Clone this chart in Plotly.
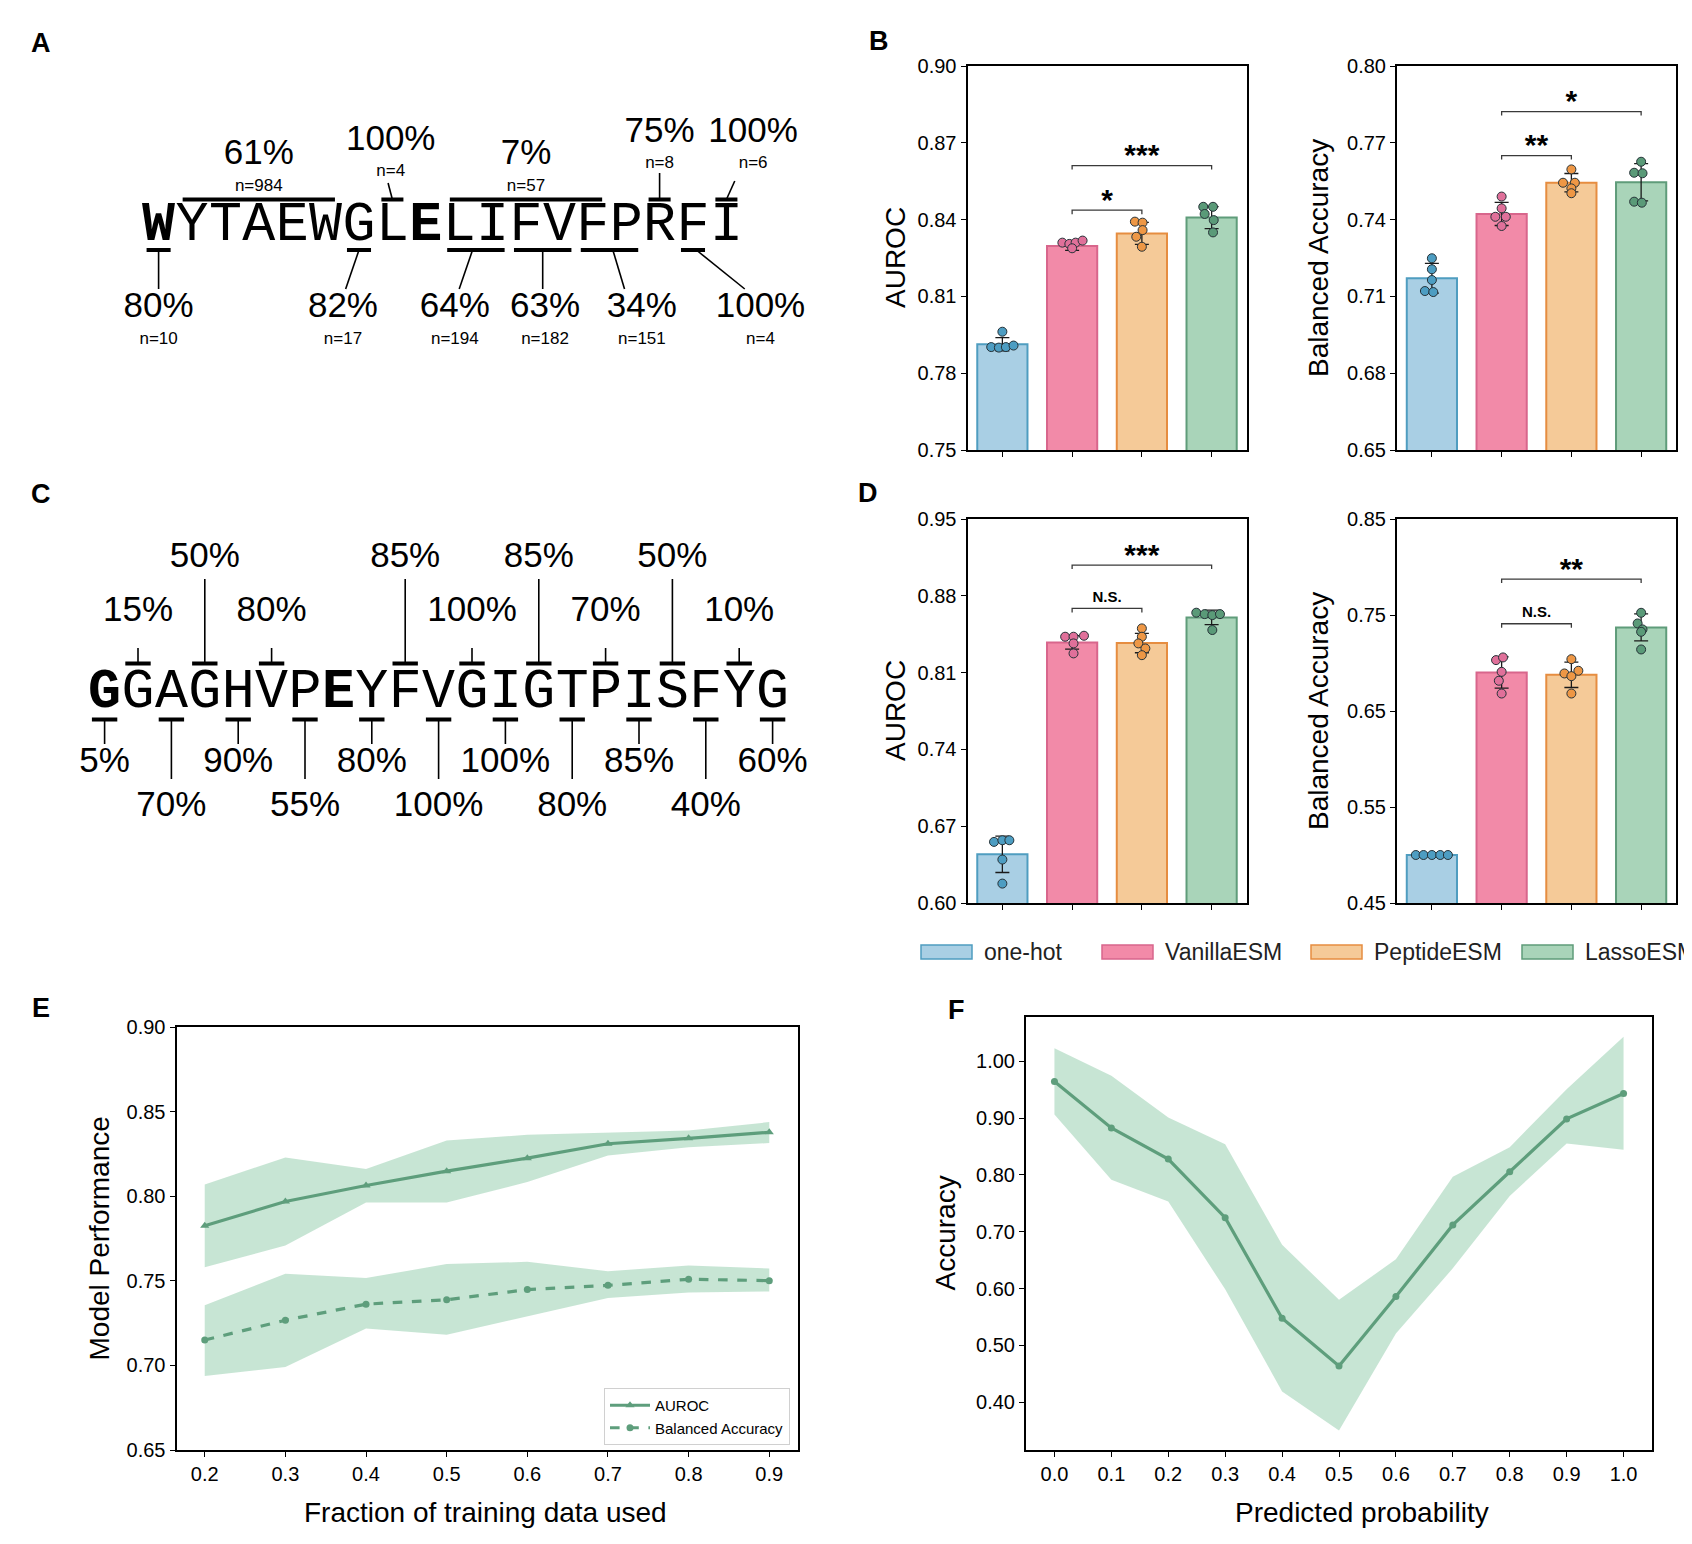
import numpy as np
import plotly.graph_objects as go

# page is 1692 x 1544 with the browser's 8px body margin around the figure
OFF = 8
W, H = 1692 - 2 * OFF, 1544 - 2 * OFF
SANS = "Liberation Sans, Arial, sans-serif"
MONO = "Liberation Mono, Courier New, monospace"

# ---------------- panel A / C : sequence maps ----------------
SEQ_A = "WYTAEWGLELIFVFPRFI"
BOLD_A = [0, 8]
A_TOP_SPAN = [(1, 5), (7, 7), (9, 13), (15, 15), (17, 17)]
A_TOP_PCT = ["61%", "100%", "7%", "75%", "100%"]
A_TOP_N = ["n=984", "n=4", "n=57", "n=8", "n=6"]
A_TOP_LABEL_X = [3.0, 6.95, 11.0, 15.0, 17.8]
A_BOT_SPAN = [(0, 0), (6, 6), (9, 10), (11, 12), (13, 14), (16, 16)]
A_BOT_PCT = ["80%", "82%", "64%", "63%", "34%", "100%"]
A_BOT_N = ["n=10", "n=17", "n=194", "n=182", "n=151", "n=4"]
A_BOT_LABEL_X = [0.0, 5.52, 8.87, 11.57, 14.47, 18.02]

SEQ_C = "GGAGHVPEYFVGIGTPISFYG"
BOLD_C = [0, 7]
C_TOP_POS = [1, 3, 5, 9, 11, 13, 15, 17, 19]
C_TOP_PCT = ["15%", "50%", "80%", "85%", "100%", "85%", "70%", "50%", "10%"]
C_TOP_LONG = [0, 1, 0, 1, 0, 1, 0, 1, 0]
C_BOT_POS = [0, 2, 4, 6, 8, 10, 12, 14, 16, 18, 20]
C_BOT_PCT = ["5%", "70%", "90%", "55%", "80%", "100%", "100%", "80%", "85%", "40%", "60%"]
C_BOT_LONG = [0, 1, 0, 1, 0, 1, 0, 1, 0, 1, 0]

# ---------------- panels B / D : bar charts ----------------
MODELS = ["one-hot", "VanillaESM", "PeptideESM", "LassoESM"]
FILL = ["#a9cfe4", "#f28aa8", "#f5ca98", "#a9d4b9"]
EDGE = ["#4f9dc0", "#d8668c", "#e68d40", "#5f9c7a"]
DOT = ["#4d9dc2", "#e0709a", "#ee9745", "#5a9a78"]

B_AUC = [0.7913, 0.8297, 0.8346, 0.8408]
B_AUC_ERR = [0.0026, 0.0017, 0.0043, 0.0043]
B_AUC_PTS = [[0.7962, 0.7902, 0.7900, 0.7902, 0.7908],
             [0.8310, 0.8305, 0.8310, 0.8318, 0.8288],
             [0.8392, 0.8388, 0.8359, 0.8333, 0.8294],
             [0.8450, 0.8450, 0.8422, 0.8398, 0.8350]]
B_AUC_JIT = [[0, -0.16, -0.05, 0.05, 0.16],
             [-0.14, -0.04, 0.05, 0.15, 0.0],
             [-0.10, 0.01, 0.01, -0.08, 0.0],
             [-0.12, 0.02, -0.10, 0.03, 0.02]]
B_AUC_SIG = [(1, 2, 0.8437, "*"), (1, 3, 0.8611, "***")]

B_BA = [0.7171, 0.7422, 0.7544, 0.7546]
B_BA_ERR = [0.0058, 0.0045, 0.0036, 0.0073]
B_BA_PTS = [[0.7249, 0.7206, 0.7164, 0.7121, 0.7117],
            [0.7490, 0.7444, 0.7411, 0.7411, 0.7375],
            [0.7596, 0.7544, 0.7544, 0.7522, 0.7503],
            [0.7626, 0.7583, 0.7581, 0.7470, 0.7466]]
B_BA_JIT = [[0, 0, 0, -0.10, 0.02],
            [0, 0, -0.09, 0.06, 0],
            [0, -0.12, 0.05, 0, 0],
            [0, -0.10, 0.02, -0.10, 0.01]]
B_BA_SIG = [(1, 2, 0.7650, "**"), (1, 3, 0.7822, "*")]

D_AUC = [0.6444, 0.8375, 0.8369, 0.8603]
D_AUC_ERR = [0.0166, 0.0061, 0.0088, 0.0066]
D_AUC_PTS = [[0.6557, 0.6572, 0.6572, 0.6396, 0.6177],
             [0.8427, 0.8427, 0.8436, 0.8366, 0.8275],
             [0.8503, 0.8427, 0.8366, 0.8320, 0.8259],
             [0.8646, 0.8633, 0.8624, 0.8633, 0.8488]]
D_AUC_JIT = [[-0.12, 0, 0.10, 0, 0],
             [-0.10, 0.02, 0.17, 0.02, 0.02],
             [0, 0, -0.05, 0.05, 0],
             [-0.22, -0.10, 0.01, 0.12, 0.01]]
D_AUC_SIG = [(1, 2, 0.8685, "N.S."), (1, 3, 0.9080, "***")]

D_BA = [0.5000, 0.6901, 0.6877, 0.7371]
D_BA_ERR = [0.0, 0.0162, 0.0132, 0.0141]
D_BA_PTS = [[0.50, 0.50, 0.50, 0.50, 0.50],
            [0.7030, 0.7058, 0.6908, 0.6815, 0.6682],
            [0.7040, 0.6891, 0.6919, 0.6863, 0.6682],
            [0.7523, 0.7412, 0.7350, 0.7325, 0.7141]]
D_BA_JIT = [[-0.23, -0.12, 0, 0.12, 0.23],
            [-0.08, 0.02, 0, -0.04, 0],
            [0, -0.10, 0.10, 0, 0],
            [0, -0.05, 0.02, 0, 0]]
D_BA_SIG = [(1, 2, 0.7409, "N.S."), (1, 3, 0.7874, "**")]

# ---------------- panel E ----------------
FRAC = [0.2, 0.3, 0.4, 0.5, 0.6, 0.7, 0.8, 0.9]
E_AUC = [0.7825, 0.7969, 0.8063, 0.8148, 0.8225, 0.8310, 0.8342, 0.8378]
E_AUC_HI = [0.8069, 0.8229, 0.8161, 0.8329, 0.8363, 0.8374, 0.8389, 0.8438]
E_AUC_LO = [0.7580, 0.7708, 0.7963, 0.7963, 0.8084, 0.8240, 0.8289, 0.8314]
E_BA = [0.7150, 0.7267, 0.7362, 0.7388, 0.7448, 0.7473, 0.7509, 0.7501]
E_BA_HI = [0.7356, 0.7541, 0.7516, 0.7599, 0.7612, 0.7556, 0.7590, 0.7573]
E_BA_LO = [0.6937, 0.6990, 0.7218, 0.7181, 0.7292, 0.7399, 0.7431, 0.7437]

# ---------------- panel F ----------------
PROB = [0.0, 0.1, 0.2, 0.3, 0.4, 0.5, 0.6, 0.7, 0.8, 0.9, 1.0]
F_ACC = [0.9643, 0.8828, 0.8280, 0.7248, 0.5478, 0.4637, 0.5860, 0.7121, 0.8057, 0.8987, 0.9433]
F_HI = [1.0229, 0.9745, 0.9013, 0.8541, 0.6771, 0.5803, 0.6516, 0.7968, 0.8490, 0.9510, 1.0433]
F_LO = [0.9064, 0.7917, 0.7535, 0.5987, 0.4191, 0.3503, 0.5210, 0.6357, 0.7630, 0.8554, 0.8446]

GREEN = "#5e9e7c"
BAND = "rgba(100,182,136,0.36)"


def px_x(x):
    # page pixel -> paper fraction
    return (x - OFF) / W


def px_y(y):
    return 1 - (y - OFF) / H


fig = go.Figure()
annotations = []
shapes = []


def note(text, x, y, size, angle=0, xanchor="center", color="black"):
    annotations.append(dict(text=text, x=px_x(x), y=px_y(y), xref="paper", yref="paper",
                            xanchor=xanchor, yanchor="middle", showarrow=False,
                            textangle=angle, font=dict(family=SANS, size=size, color=color)))


def axis_style(**kw):
    d = dict(showline=True, linecolor="black", linewidth=2, mirror=True,
             ticks="outside", ticklen=5, tickwidth=1.2, tickcolor="black",
             showgrid=False, zeroline=False, automargin=False,
             tickfont=dict(family=SANS, size=20, color="black"))
    d.update(kw)
    return d


# ---------- sequence panels ----------
def sequence_panel(n, seq, bold, x0, y0, pitch, xmax):
    xa, ya = f"x{n}", f"y{n}"
    fig.layout[f"xaxis{n}"] = dict(domain=[px_x(x0 - pitch), px_x(x0 + xmax * pitch)],
                                   range=[-1, xmax], visible=False, fixedrange=True)
    fig.layout[f"yaxis{n}"] = dict(domain=[px_y(y0 + 150), px_y(y0 - 150)],
                                   range=[-150, 150], visible=False, fixedrange=True)
    txt = [f"<b>{c}</b>" if i in bold else c for i, c in enumerate(seq)]
    fig.add_trace(go.Scatter(x=list(range(len(seq))), y=[0] * len(seq), text=txt,
                             mode="text", textposition="middle center", cliponaxis=False,
                             textfont=dict(family=MONO, size=55, color="black"),
                             xaxis=xa, yaxis=ya, showlegend=False, hoverinfo="skip"))
    return xa, ya


def add_lines(xs, ys, width, xa, ya):
    fig.add_trace(go.Scatter(x=xs, y=ys, mode="lines", line=dict(color="black", width=width),
                             xaxis=xa, yaxis=ya, showlegend=False, hoverinfo="skip",
                             cliponaxis=False))


def add_text(xs, ys, texts, size, xa, ya, bold=False, family=SANS):
    if bold:
        texts = [f"<b>{t}</b>" for t in texts]
    fig.add_trace(go.Scatter(x=xs, y=ys, text=texts, mode="text", textposition="middle center",
                             textfont=dict(family=family, size=size, color="black"),
                             xaxis=xa, yaxis=ya, showlegend=False, hoverinfo="skip",
                             cliponaxis=False))


# panel A
PITCH = 33.4
xa, ya = sequence_panel(5, SEQ_A, BOLD_A, 158.6, 226, PITCH, 19)
bx, by, lx, ly = [], [], [], []
top_lines = {1: (6.87, 43), 3: (15.0, 53), 4: (17.25, 45)}
for k, (a, b) in enumerate(A_TOP_SPAN):
    half = 0.28 if b > a else 0.33
    bx += [a - half, b + half, None]
    by += [26.5, 26.5, None]
    if k in top_lines:
        ex, ey = top_lines[k]
        lx += [(a + b) / 2, ex, None]
        ly += [26.5, ey, None]
bot_lines = [(0.0, 0.0), (6.0, 5.6), (9.4, 9.0), (11.5, 11.5), (13.6, 13.95), (16.1, 17.55)]
for k, (a, b) in enumerate(A_BOT_SPAN):
    bx += [a - 0.36, b + 0.36, None]
    by += [-24, -24, None]
    s, e = bot_lines[k]
    lx += [s, e, None]
    ly += [-24, -63, None]
add_lines(bx, by, 4, xa, ya)
add_lines(lx, ly, 1.6, xa, ya)
top_pct_y = [71, 85, 71, 93, 93]
top_n_y = [39.5, 54, 39.5, 62, 62]
add_text(A_TOP_LABEL_X, top_pct_y, A_TOP_PCT, 35, xa, ya)
add_text(A_TOP_LABEL_X, top_n_y, A_TOP_N, 17, xa, ya)
add_text(A_BOT_LABEL_X, [-82] * len(A_BOT_PCT), A_BOT_PCT, 35, xa, ya)
add_text(A_BOT_LABEL_X, [-114] * len(A_BOT_N), A_BOT_N, 17, xa, ya)

# panel C
xa, ya = sequence_panel(6, SEQ_C, BOLD_C, 104.6, 693.6, PITCH, 21)
bx, by, lx, ly = [], [], [], []
for p, lg in zip(C_TOP_POS, C_TOP_LONG):
    bx += [p - 0.38, p + 0.38, None]
    by += [30, 30, None]
    lx += [p, p, None]
    ly += [30, 114.6 if lg else 45.6, None]
for p, lg in zip(C_BOT_POS, C_BOT_LONG):
    bx += [p - 0.38, p + 0.38, None]
    by += [-26, -26, None]
    lx += [p, p, None]
    ly += [-26, -85.4 if lg else -50.4, None]
add_lines(bx, by, 4, xa, ya)
add_lines(lx, ly, 1.6, xa, ya)
add_text(C_TOP_POS, [135 if lg else 81 for lg in C_TOP_LONG], C_TOP_PCT, 35, xa, ya)
add_text(C_BOT_POS, [-114 if lg else -70 for lg in C_BOT_LONG], C_BOT_PCT, 35, xa, ya)


# ---------- bar panels ----------
def bar_panel(n, vals, errs, pts, jit, sig, yrange, dtick, title, left_px, top_px, title_px):
    xa, ya = f"x{n}", f"y{n}"
    w_px, h_px = 279, 384
    fig.layout[f"xaxis{n}"] = axis_style(domain=[px_x(left_px), px_x(left_px + w_px)],
                                         range=[-0.5, 3.5], tickvals=[0, 1, 2, 3],
                                         showticklabels=False, anchor=ya)
    fig.layout[f"yaxis{n}"] = axis_style(domain=[px_y(top_px + h_px), px_y(top_px)],
                                         range=yrange, tick0=yrange[0], dtick=dtick,
                                         tickformat=".2f", anchor=xa)
    cats = list(range(len(MODELS)))
    fig.add_trace(go.Bar(x=cats, y=vals, width=0.72, xaxis=xa, yaxis=ya, showlegend=False,
                         marker=dict(color=FILL, line=dict(color=EDGE, width=2)),
                         error_y=dict(type="data", array=errs, color="#1a1a1a",
                                      thickness=1.3, width=7)))
    for i in cats:
        fig.add_trace(go.Scatter(x=[i + j for j in jit[i]], y=pts[i], mode="markers",
                                 marker=dict(size=9, color=DOT[i],
                                             line=dict(color="#263238", width=1)),
                                 xaxis=xa, yaxis=ya, showlegend=False, hoverinfo="skip"))
    unit = (yrange[1] - yrange[0]) / h_px
    sx, sy = [], []
    for a, b, yv, lab in sig:
        sx += [a, a, b, b, None]
        sy += [yv - 4 * unit, yv, yv, yv - 4 * unit, None]
        if lab == "N.S.":
            add_text([(a + b) / 2], [yv + 10 * unit], [lab], 15, xa, ya, bold=True)
        else:
            add_text([(a + b) / 2], [yv + 8 * unit], [lab], 30, xa, ya, bold=True)
    fig.add_trace(go.Scatter(x=sx, y=sy, mode="lines", line=dict(color="#3a3a3a", width=1.3),
                             xaxis=xa, yaxis=ya, showlegend=False, hoverinfo="skip"))
    note(title, title_px, top_px + h_px / 2, 28, angle=-90)


bar_panel(1, B_AUC, B_AUC_ERR, B_AUC_PTS, B_AUC_JIT, B_AUC_SIG, [0.75, 0.90], 0.03,
          "AUROC", 967.5, 66, 895)
bar_panel(2, B_BA, B_BA_ERR, B_BA_PTS, B_BA_JIT, B_BA_SIG, [0.65, 0.80], 0.03,
          "Balanced Accuracy", 1397, 66, 1318)
bar_panel(3, D_AUC, D_AUC_ERR, D_AUC_PTS, D_AUC_JIT, D_AUC_SIG, [0.60, 0.95], 0.07,
          "AUROC", 967.5, 519, 895)
bar_panel(4, D_BA, D_BA_ERR, D_BA_PTS, D_BA_JIT, D_BA_SIG, [0.45, 0.85], 0.10,
          "Balanced Accuracy", 1397, 519, 1318)

# shared legend for the bar panels
for i, (name, x0) in enumerate(zip(MODELS, [921, 1102, 1311, 1522])):
    shapes.append(dict(type="rect", xref="paper", yref="paper",
                       x0=px_x(x0), x1=px_x(x0 + 51), y0=px_y(959), y1=px_y(945),
                       fillcolor=FILL[i], line=dict(color=EDGE[i], width=1.5)))
    note(name, x0 + 61, 952, 23, xanchor="left", color="#222")

# ---------- panel E ----------
fig.layout["xaxis7"] = axis_style(domain=[px_x(176.5), px_x(797.5)], range=[0.165, 0.935],
                                  tickvals=FRAC, anchor="y7")
fig.layout["yaxis7"] = axis_style(domain=[px_y(1450), px_y(1027)], range=[0.65, 0.90],
                                  tick0=0.65, dtick=0.05, tickformat=".2f", anchor="x7")
for hi, lo in [(E_AUC_HI, E_AUC_LO), (E_BA_HI, E_BA_LO)]:
    fig.add_trace(go.Scatter(x=FRAC + FRAC[::-1], y=hi + lo[::-1], fill="toself",
                             fillcolor=BAND, line=dict(width=0), mode="lines",
                             xaxis="x7", yaxis="y7", showlegend=False, hoverinfo="skip"))
fig.add_trace(go.Scatter(x=FRAC, y=E_AUC, mode="lines+markers", name="AUROC",
                         line=dict(color=GREEN, width=3.2),
                         marker=dict(symbol="triangle-up", size=8, color=GREEN),
                         xaxis="x7", yaxis="y7"))
fig.add_trace(go.Scatter(x=FRAC, y=E_BA, mode="lines+markers", name="Balanced Accuracy",
                         line=dict(color=GREEN, width=3.2, dash="dash"),
                         marker=dict(symbol="circle", size=7, color=GREEN),
                         xaxis="x7", yaxis="y7"))
note("Model Performance", 99, 1238.5, 28, angle=-90)
note("Fraction of training data used", 485, 1512, 28)

# ---------- panel F ----------
fig.layout["xaxis8"] = axis_style(domain=[px_x(1026), px_x(1652)], range=[-0.05, 1.05],
                                  tickvals=PROB, tickformat=".1f", anchor="y8")
fig.layout["yaxis8"] = axis_style(domain=[px_y(1450), px_y(1017)], range=[0.316, 1.078],
                                  tickvals=[0.4, 0.5, 0.6, 0.7, 0.8, 0.9, 1.0],
                                  tickformat=".2f", anchor="x8")
fig.add_trace(go.Scatter(x=PROB + PROB[::-1], y=F_HI + F_LO[::-1], fill="toself",
                         fillcolor=BAND, line=dict(width=0), mode="lines",
                         xaxis="x8", yaxis="y8", showlegend=False, hoverinfo="skip"))
fig.add_trace(go.Scatter(x=PROB, y=F_ACC, mode="lines+markers",
                         line=dict(color=GREEN, width=3.2),
                         marker=dict(symbol="circle", size=7, color=GREEN),
                         xaxis="x8", yaxis="y8", showlegend=False))
note("Accuracy", 945, 1233.5, 28, angle=-90)
note("Predicted probability", 1362, 1512, 28)

# panel letters
for lab, x, y in [("A", 41, 43), ("B", 879, 41), ("C", 41, 494),
                  ("D", 868, 493), ("E", 41, 1008), ("F", 957, 1010)]:
    note(f"<b>{lab}</b>", x, y, 27)

fig.update_layout(
    width=W, height=H,
    margin=dict(l=0, r=0, t=0, b=0),
    paper_bgcolor="white", plot_bgcolor="white",
    font=dict(family=SANS, color="black"),
    annotations=annotations, shapes=shapes,
    legend=dict(x=px_x(790), xanchor="right", y=px_y(1445), yanchor="bottom",
                bgcolor="white", bordercolor="#d0d0d0", borderwidth=1,
                font=dict(family=SANS, size=15, color="black"), itemwidth=40),
)

fig.write_html("out.html")
